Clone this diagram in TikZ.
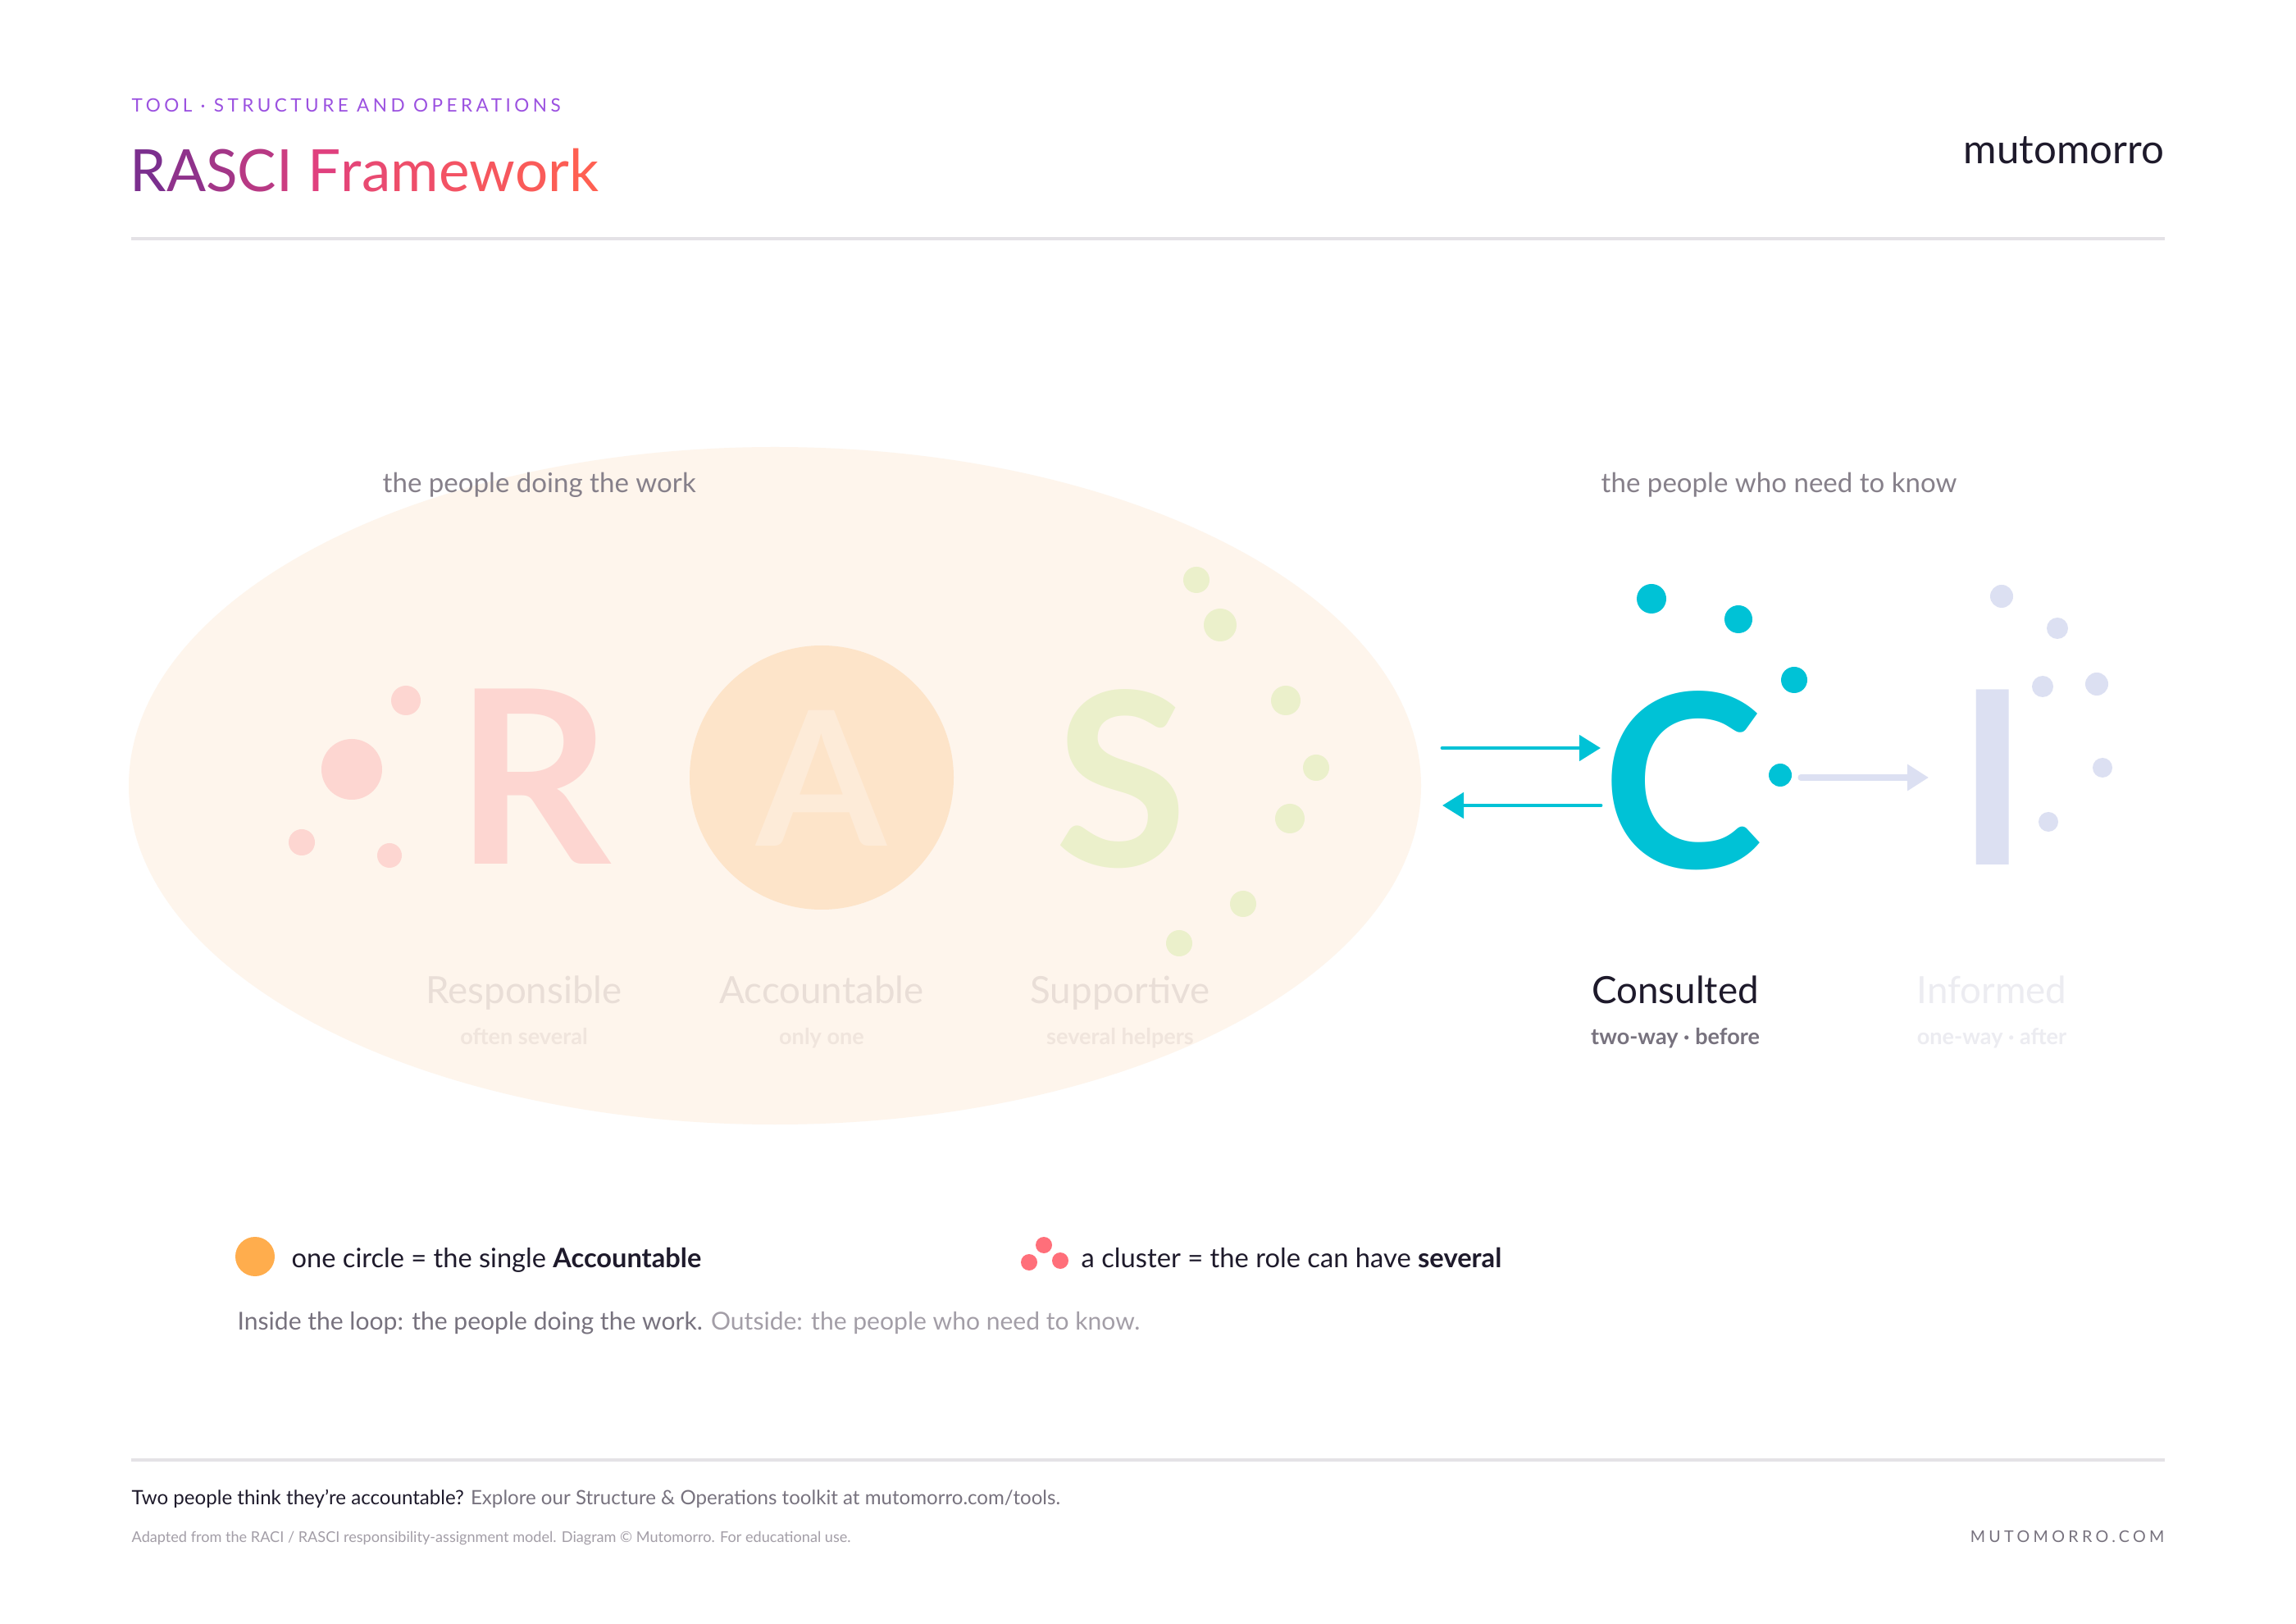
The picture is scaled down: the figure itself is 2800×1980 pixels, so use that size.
\documentclass[tikz,border=0pt]{standalone}
\usepackage{fontspec}
\setmainfont{Lato}
\usepackage{tikz}
\usetikzlibrary{arrows.meta}

\definecolor{ink}{HTML}{1E1A2B}
\definecolor{kicker}{HTML}{9B51E0}
\definecolor{tA}{HTML}{7B2F8E}
\definecolor{tB}{HTML}{E0407E}
\definecolor{tC}{HTML}{FF6052}
\definecolor{rule}{HTML}{E4E2E6}
\definecolor{hdgrey}{HTML}{86808A}
\definecolor{loopfill}{HTML}{FEF5EC}
\definecolor{rpink}{HTML}{FDD6D1}
\definecolor{aorange}{HTML}{FDE4C9}
\definecolor{aletter}{HTML}{FDEBD8}
\definecolor{sgreen}{HTML}{EBF0CB}
\definecolor{cblue}{HTML}{00C2D6}
\definecolor{lav}{HTML}{DCE0F2}
\definecolor{faint}{HTML}{E9DED7}
\definecolor{fainter}{HTML}{F0E5DD}
\definecolor{ifaint}{HTML}{ECECF1}
\definecolor{subgrey}{HTML}{77727E}
\definecolor{legorange}{HTML}{FFAD4D}
\definecolor{legpink}{HTML}{FF6F7A}
\definecolor{lightgrey}{HTML}{A39EA7}

\newcommand\fsz[1]{\fontsize{#1}{#1}\selectfont}
\newcommand\tl[2]{{\color{#1}#2}}

\begin{document}
\begin{tikzpicture}[x=0.01cm,y=-0.01cm,
  big/.style={font=\fsz{84}\bfseries, inner sep=0pt, anchor=base},
  role/.style={font=\fsz{13}, inner sep=0pt, anchor=base},
  sub/.style={font=\fsz{7.7}\bfseries, inner sep=0pt, anchor=base},
  note/.style={font=\fsz{9.4}, text=hdgrey, inner sep=0pt, anchor=base west},
  flow/.style={line width=1.4pt, line cap=round, -{Triangle[length=7.4pt,width=8.8pt]}}]
\fill[white] (0,0) rectangle (2800,1980);
\useasboundingbox (0,0) rectangle (2800,1980);

% header
\node[anchor=base west, inner sep=0pt, text=kicker, font=\fsz{6.4}\addfontfeature{LetterSpace=20}] (kick) at (160,137) {TOOL · STRUCTURE AND OPERATIONS};
\node[anchor=base west, inner sep=0pt, font=\fsz{20.2}] (title) at (158,234)
  {\tl{tA}{R}\tl{tB!20!tA}{A}\tl{tB!40!tA}{S}\tl{tB!60!tA}{C}\tl{tB!80!tA}{I} \tl{tB}{F}\tl{tC!15!tB}{r}\tl{tC!30!tB}{a}\tl{tC!45!tB}{m}\tl{tC!60!tB}{e}\tl{tC!72!tB}{w}\tl{tC!84!tB}{o}\tl{tC!92!tB}{r}\tl{tC}{k}};
\node[anchor=base east, inner sep=0pt, text=ink, font=\fsz{14}] (brand) at (2640,200) {mutomorro};
\draw[rule, line width=1pt] (160,291) -- (2640,291);

% the loop
\fill[loopfill] (945,958) ellipse [x radius=788, y radius=413];
\node[note] (inside) at (466,601) {the people doing the work};
\node[note] (outside) at (1952,601) {the people who need to know};

% R
\node[big, text=rpink] (R) at (650,1054) {R};
\foreach \x/\y/\r in {429/938/37, 495/854/18, 368/1027/16, 475/1043/15}
  \fill[rpink] (\x,\y) circle (\r);
% A
\fill[aorange] (1002,948) circle (161);
\node[big, text=aletter, font=\fsz{65}\bfseries] (A) at (1002,1032) {A};
% S
\node[big, text=sgreen] (S) at (1367,1057) {S};
\foreach \x/\y/\r in {1459/707/16, 1488/762/20, 1568/854/18, 1605/936/16, 1573/998/18, 1516/1102/16, 1438/1150/16}
  \fill[sgreen] (\x,\y) circle (\r);

\node[role, text=faint] (Rname) at (639,1223) {Responsible};
\node[sub, text=fainter] (Rsub) at (639,1273) {often several};
\node[role, text=faint] (Aname) at (1002,1223) {Accountable};
\node[sub, text=fainter] (Asub) at (1002,1273) {only one};
\node[role, text=faint] (Sname) at (1366,1223) {Supportive};
\node[sub, text=fainter] (Ssub) at (1366,1273) {several helpers};

% C and I
\node[big, text=cblue] (C) at (2052,1059) {C};
\foreach \x/\y/\r in {2014/730/18, 2120/755/17, 2188/829/16, 2171/945/14}
  \fill[cblue] (\x,\y) circle (\r);
\node[big, text=lav] (I) at (2430,1055) {I};
\foreach \x/\y/\r in {2441/727/14, 2509/766/13, 2491/837/13, 2557/834/14, 2564/936/12, 2498/1002/12}
  \fill[lav] (\x,\y) circle (\r);

\coordinate (askL) at (1759,912);
\coordinate (askR) at (1952,912);
\coordinate (backR) at (1952,982);
\coordinate (backL) at (1759,982);
\coordinate (tellL) at (2196,948);
\coordinate (tellR) at (2352,948);
\draw[flow, cblue] (askL) -- (askR);
\draw[flow, cblue] (backR) -- (backL);
\draw[flow, lav, line width=2pt] (tellL) -- (tellR);

\node[role, text=ink] (Cname) at (2043,1223) {Consulted};
\node[sub, text=subgrey] (Csub) at (2043,1273) {two-way · before};
\node[role, text=ifaint] (Iname) at (2429,1223) {Informed};
\node[sub, text=ifaint] (Isub) at (2429,1273) {one-way · after};

% legend
\fill[legorange] (311,1532) circle (24);
\node[anchor=base west, inner sep=0pt, text=ink, font=\fsz{9.27}] (leg1) at (355,1545) {one circle = the single \textbf{Accountable}};
\foreach \x/\y in {1273/1518, 1255/1539, 1293/1537}
  \fill[legpink] (\x,\y) circle (10);
\node[anchor=base west, inner sep=0pt, text=ink, font=\fsz{9.3}] (leg2) at (1318,1545) {a cluster = the role can have \textbf{several}};
\node[anchor=base west, inner sep=0pt, text=subgrey, font=\fsz{8.55}] (loopnote) at (289,1621) {Inside the loop: the people doing the work. \textcolor{lightgrey}{Outside: the people who need to know.}};

% footer
\draw[rule, line width=1pt] (160,1780) -- (2640,1780);
\node[anchor=base west, inner sep=0pt, text=subgrey, font=\fsz{6.85}] (cta) at (160,1834) {\textcolor{ink}{Two people think they're accountable?} Explore our Structure \& Operations toolkit at mutomorro.com/tools.};
\node[anchor=base west, inner sep=0pt, text=lightgrey, font=\fsz{5.15}] (credit) at (160,1880) {Adapted from the RACI / RASCI responsibility-assignment model. Diagram © Mutomorro. For educational use.};
\node[anchor=base east, inner sep=0pt, text=subgrey, font=\fsz{5.6}\addfontfeature{LetterSpace=22}] (site) at (2640,1880) {MUTOMORRO.COM};
\end{tikzpicture}
\end{document}
